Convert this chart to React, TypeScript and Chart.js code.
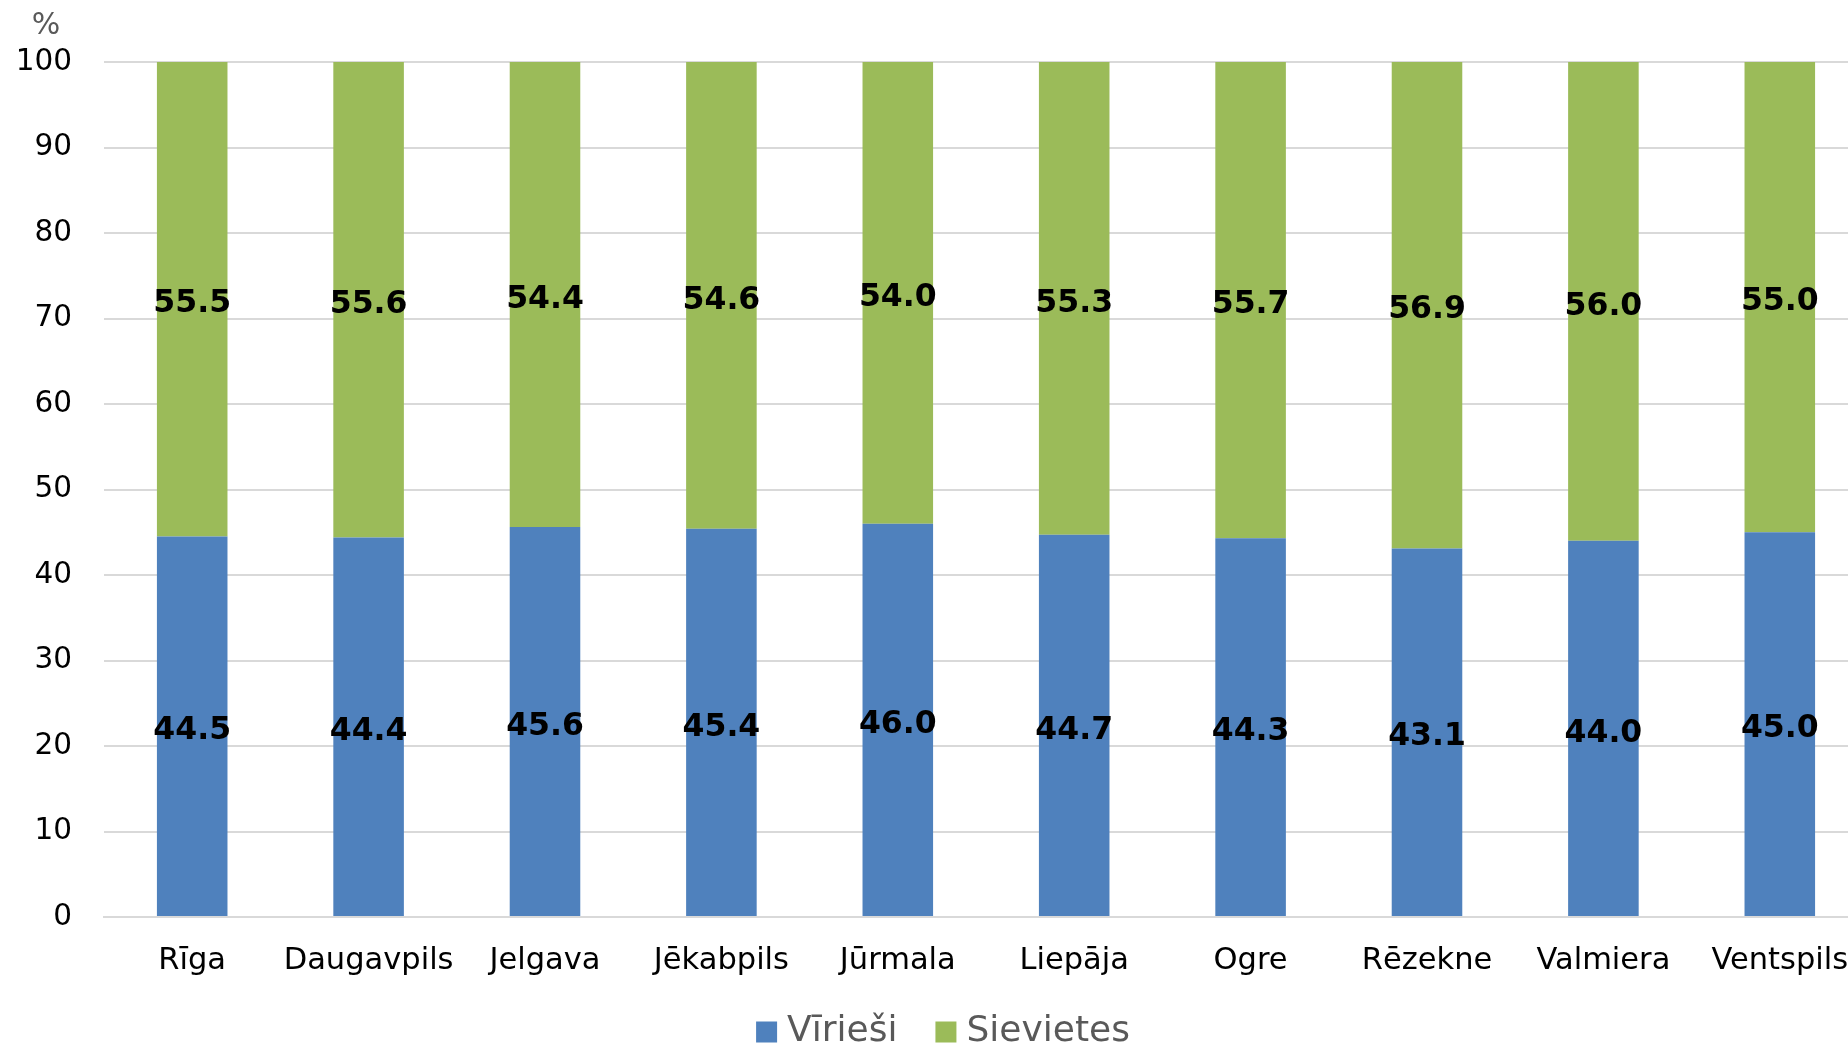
import React, { useEffect, useRef } from "react";
import { Chart, registerables } from "chart.js";

Chart.register(...registerables);

const categories = ["Rīga", "Daugavpils", "Jelgava", "Jēkabpils", "Jūrmala", "Liepāja", "Ogre", "Rēzekne", "Valmiera", "Ventspils"];
const maleValues = [44.5, 44.4, 45.6, 45.4, 46.0, 44.7, 44.3, 43.1, 44.0, 45.0];
const femaleValues = [55.5, 55.6, 54.4, 54.6, 54.0, 55.3, 55.7, 56.9, 56.0, 55.0];
const seriesNames = ["Vīrieši", "Sievietes"];
const seriesColors = ["#4F81BD", "#9BBB59"];
const unitLabel = "%";

const FONT = "'DejaVu Sans', Verdana, sans-serif";

export default function App() {
  const ref = useRef<HTMLCanvasElement | null>(null);

  useEffect(() => {
    if (!ref.current) return;
    const labelPlugin = {
      id: "barLabels",
      afterDatasetsDraw(chart: any) {
        const ctx = chart.ctx;
        ctx.save();
        ctx.font = `bold 31.5px ${FONT}`;
        ctx.fillStyle = "#000000";
        ctx.textAlign = "center";
        ctx.textBaseline = "middle";
        chart.data.datasets.forEach((ds: any, di: number) => {
          const meta = chart.getDatasetMeta(di);
          meta.data.forEach((el: any, i: number) => {
            const v = ds.data[i];
            const y = (el.y + el.base) / 2;
            ctx.fillText(Number(v).toFixed(1), el.x, y + 5);
          });
        });
        ctx.restore();
      },
      afterDraw(chart: any) {
        const ctx = chart.ctx;
        ctx.save();
        // unit label
        ctx.font = `30px ${FONT}`;
        ctx.fillStyle = "#595959";
        ctx.textAlign = "center";
        ctx.textBaseline = "middle";
        ctx.fillText(unitLabel, 46, 26);
        // legend
        ctx.font = `36px ${FONT}`;
        ctx.textAlign = "left";
        const box = 21;
        const gapBox = 10;
        const gapItem = 38;
        const widths = chart.data.datasets.map((ds: any) => ctx.measureText(ds.label).width);
        let total = 0;
        widths.forEach((w: number, i: number) => {
          total += box + gapBox + w + (i > 0 ? gapItem : 0);
        });
        let x = 943 - total / 2;
        const cy = 1032;
        chart.data.datasets.forEach((ds: any, i: number) => {
          ctx.fillStyle = ds.backgroundColor;
          ctx.fillRect(x, cy - box / 2, box, box);
          x += box + gapBox;
          ctx.fillStyle = "#595959";
          ctx.fillText(ds.label, x, cy);
          x += widths[i] + gapItem;
        });
        ctx.restore();
      },
    };

    const chart = new Chart(ref.current, {
      type: "bar",
      data: {
        labels: categories,
        datasets: [
          {
            label: seriesNames[0],
            data: maleValues,
            backgroundColor: seriesColors[0],
            borderWidth: 0,
            barPercentage: 0.4,
            categoryPercentage: 1,
          },
          {
            label: seriesNames[1],
            data: femaleValues,
            backgroundColor: seriesColors[1],
            borderWidth: 0,
            barPercentage: 0.4,
            categoryPercentage: 1,
          },
        ],
      },
      options: {
        responsive: false,
        animation: false,
        devicePixelRatio: 1,
        layout: { padding: { top: 62, right: 12, left: 0, bottom: 0 } },
        plugins: {
          tooltip: { enabled: false },
          legend: { display: false },
        },
        scales: {
          x: {
            stacked: true,
            grid: { display: false, drawTicks: false },
            border: { display: true, color: "#D9D9D9", width: 2 },
            ticks: {
              font: { family: FONT, size: 30.5 },
              color: "#000000",
              padding: 26,
              maxRotation: 0,
              autoSkip: false,
            },
            afterFit(scale: any) {
              scale.height = 130;
            },
          },
          y: {
            stacked: true,
            min: 0,
            max: 100,
            grid: { color: "#D9D9D9", lineWidth: 2, drawTicks: false },
            border: { display: false },
            ticks: {
              stepSize: 10,
              font: { family: FONT, size: 29.5 },
              color: "#000000",
              padding: 32,
            },
            afterFit(scale: any) {
              scale.width = 104;
            },
          },
        },
      },
      plugins: [labelPlugin],
    });
    return () => chart.destroy();
  }, []);

  return (
    <div style={{ position: "fixed", left: 0, top: 0, width: 1880, height: 1047, background: "#ffffff" }}>
      <canvas ref={ref} width={1880} height={1047} />
    </div>
  );
}
